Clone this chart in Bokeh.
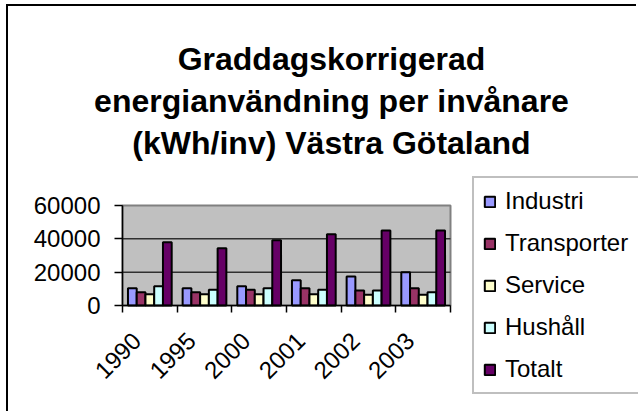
import math
from bokeh.plotting import figure
from bokeh.models import (FixedTicker, Legend, LegendItem, Label, Range1d, NumeralTickFormatter,
                          ColumnDataSource)
from bokeh.embed import file_html
from bokeh.resources import INLINE

# ---- data ----
years = ["1990", "1995", "2000", "2001", "2002", "2003"]
industri = [10400, 10400, 11600, 15200, 17400, 20000]
transporter = [8000, 8000, 9400, 10400, 9000, 10400]
service = [6800, 6800, 6800, 6800, 6400, 6400]
hushall = [11600, 9400, 10400, 9400, 9000, 8000]
totalt = [38000, 34400, 39200, 42800, 45000, 45000]
series_names = ["Industri", "Transporter", "Service", "Hushåll", "Totalt"]
y_ticks = [0, 20000, 40000, 60000]
title_lines = ["Graddagskorrigerad", "energianvändning per invånare", "(kWh/inv) Västra Götaland"]

series_values = [industri, transporter, service, hushall, totalt]
colors = ["#9999FF", "#993366", "#FFFFCC", "#CCFFFF", "#660066"]
FONT = "Liberation Sans"

# ---- layout (canvas pixels) ----
W, H = 630, 407            # canvas; it starts at page (8, 6)
ORG_X, ORG_Y = 8, 6
PA_L, PA_R, PA_T, PA_B = 122, 450, 205, 305   # plot area on the page
n = len(years)
ymax = y_ticks[-1]
px_x = (PA_R - PA_L) / n
px_y = ymax / (PA_B - PA_T)
x_start = (ORG_X - PA_L) / px_x
x_end = (ORG_X + W - PA_L) / px_x
y_end = (PA_B - ORG_Y) * px_y
y_start = (PA_B - (ORG_Y + H)) * px_y

p = figure(width=W, height=H, output_backend="svg", toolbar_location=None,
           x_range=Range1d(x_start, x_end), y_range=Range1d(y_start, y_end),
           min_border=0, min_border_left=0, min_border_right=0,
           min_border_top=0, min_border_bottom=0)
p.title.visible = False
p.styles = {"margin-left": "6px", "margin-top": "4px",
            "border-left": "2px solid black", "border-top": "2px solid black"}
p.background_fill_color = "white"
p.border_fill_color = "white"
p.outline_line_color = None
p.xgrid.visible = False
p.ygrid.visible = False

# plot area background
p.quad(left=[0], right=[n], bottom=[y_ticks[0]], top=[ymax], fill_color="#C0C0C0",
       line_color="#808080", line_width=2, level="underlay")
# horizontal gridlines
inner = y_ticks[1:-1]
p.segment(x0=[0] * len(inner), x1=[n] * len(inner), y0=inner, y1=inner,
          line_color="#303030", line_width=1.5)

bar_w = 0.16
items = []
for j, (name, vals, col) in enumerate(zip(series_names, series_values, colors)):
    xs = [i + 0.5 + (j - 2) * bar_w for i in range(n)]
    src = ColumnDataSource(dict(x=xs, top=vals))
    r = p.vbar(x="x", top="top", width=bar_w, source=src, fill_color=col,
               line_color="black", line_width=2)
    items.append(LegendItem(label=name, renderers=[r]))

# axes, pinned to the plot area's edges
label_shift = 0.24   # rotated labels end a little left of the category centre
xa = p.xaxis[0]
xa.fixed_location = 0
xa.bounds = (0, n)
xa.ticker = FixedTicker(ticks=[i + 0.5 - label_shift for i in range(n)],
                        minor_ticks=list(range(n + 1)))
xa.major_label_overrides = {i + 0.5 - label_shift: y for i, y in enumerate(years)}
xa.major_tick_out = 0
xa.major_tick_in = 0
xa.minor_tick_out = 7
xa.minor_tick_in = 0
xa.minor_tick_line_color = "black"
xa.minor_tick_line_width = 1.5
xa.major_label_orientation = math.pi / 4
xa.major_label_standoff = 24

ya = p.yaxis[0]
ya.fixed_location = 0
ya.bounds = (0, ymax)
ya.ticker = FixedTicker(ticks=y_ticks, minor_ticks=[])
ya.formatter = NumeralTickFormatter(format="0")
ya.major_tick_out = 8
ya.major_tick_in = 0
ya.major_label_standoff = 14

for ax in (xa, ya):
    ax.axis_line_color = "black"
    ax.axis_line_width = 1.5
    ax.major_tick_line_color = "black"
    ax.major_tick_line_width = 1.5
    ax.major_label_text_font = FONT
    ax.major_label_text_font_size = "24px"
    ax.major_label_text_color = "black"

# legend (screen offsets from the canvas' bottom-left)
legend = Legend(items=items, location=(472 - ORG_X, ORG_Y + H - 394))
legend.border_line_color = "#808080"
legend.border_line_width = 2
legend.background_fill_color = "white"
legend.background_fill_alpha = 1
legend.label_text_font = FONT
legend.label_text_font_size = "24px"
legend.label_text_color = "black"
legend.glyph_width = 13
legend.glyph_height = 13
legend.label_standoff = 9
legend.label_height = 22
legend.label_width = 150
legend.spacing = 14
legend.padding = 9
legend.margin = 0
p.add_layout(legend)

# title
for t, base in zip(title_lines, [58, 100, 142]):
    p.add_layout(Label(x=331 - ORG_X, y=ORG_Y + H - base, x_units="screen", y_units="screen",
                       text=t, text_align="center", text_baseline="alphabetic",
                       text_font=FONT, text_font_size="32px", text_font_style="bold",
                       text_color="black"))

open("out.html", "w").write(file_html(p, INLINE))
